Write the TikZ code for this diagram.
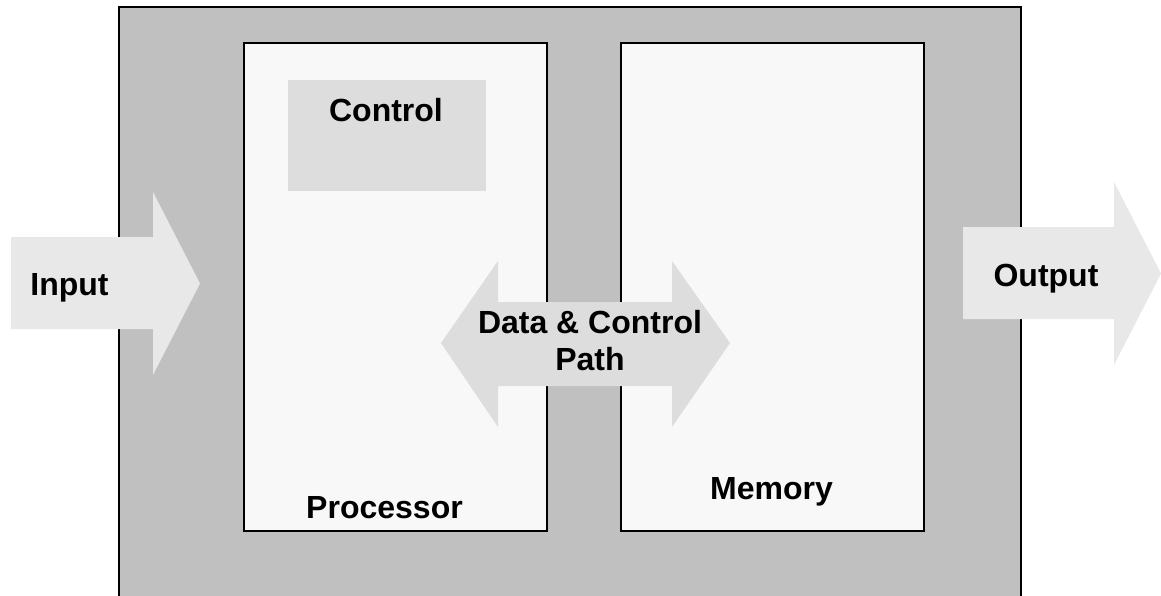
\documentclass[tikz,border=0pt]{standalone}
\usepackage{fontspec}
\setmainfont{Liberation Sans}
\definecolor{outergray}{HTML}{C0C0C0}
\definecolor{boxfill}{HTML}{F8F8F8}
\definecolor{ctrlfill}{HTML}{DDDDDD}
\definecolor{pathfill}{HTML}{DDDDDD}
\definecolor{iofill}{HTML}{E8E8E8}
\tikzset{
  unitbox/.style={draw=black, line width=1.6pt, fill=boxfill},
  blockarrow/.style={fill=iofill, draw=none},
  lbl/.style={font=\bfseries\fontsize{32}{37}\selectfont, inner sep=0pt, anchor=base, align=center, text=black}
}
\begin{document}
\begin{tikzpicture}[x=1pt,y=-1pt]
\useasboundingbox (0,0) rectangle (1161,596);
% outer system box (runs past the bottom edge)
\fill[outergray] (119,7) rectangle (1021,620);
\draw[line width=1.8pt] (119,620) -- (119,7) -- (1021,7) -- (1021,620);
% processor and memory
\draw[unitbox] (244,43) rectangle (547,531);
\draw[unitbox] (621,43) rectangle (924,531);
% control
\fill[ctrlfill] (288,80) rectangle (486,191);
% input arrow
\fill[blockarrow] (11,237) -- (153,237) -- (153,192) -- (200,283.5) -- (153,375) -- (153,329) -- (11,329) -- cycle;
% output arrow
\fill[blockarrow] (963,227) -- (1114,227) -- (1114,182) -- (1161,273.5) -- (1114,365) -- (1114,319) -- (963,319) -- cycle;
% data & control path double arrow
\fill[pathfill] (441,343) -- (498,261) -- (498,302) -- (672,302) -- (672,261) -- (730,343) -- (672,427) -- (672,386) -- (498,386) -- (498,427) -- cycle;
% labels
\node[lbl] (in) at (69.5,295) {Input};
\node[lbl] (out) at (1046,286) {Output};
\node[lbl] (ctrl) at (386,122) {Control};
\node[lbl] (dcp1) at (590,333) {Data \& Control};
\node[lbl] (dcp2) at (590,370) {Path};
\node[lbl] (proc) at (384.5,518) {Processor};
\node[lbl] (mem) at (771.5,499) {Memory};
\end{tikzpicture}
\end{document}
